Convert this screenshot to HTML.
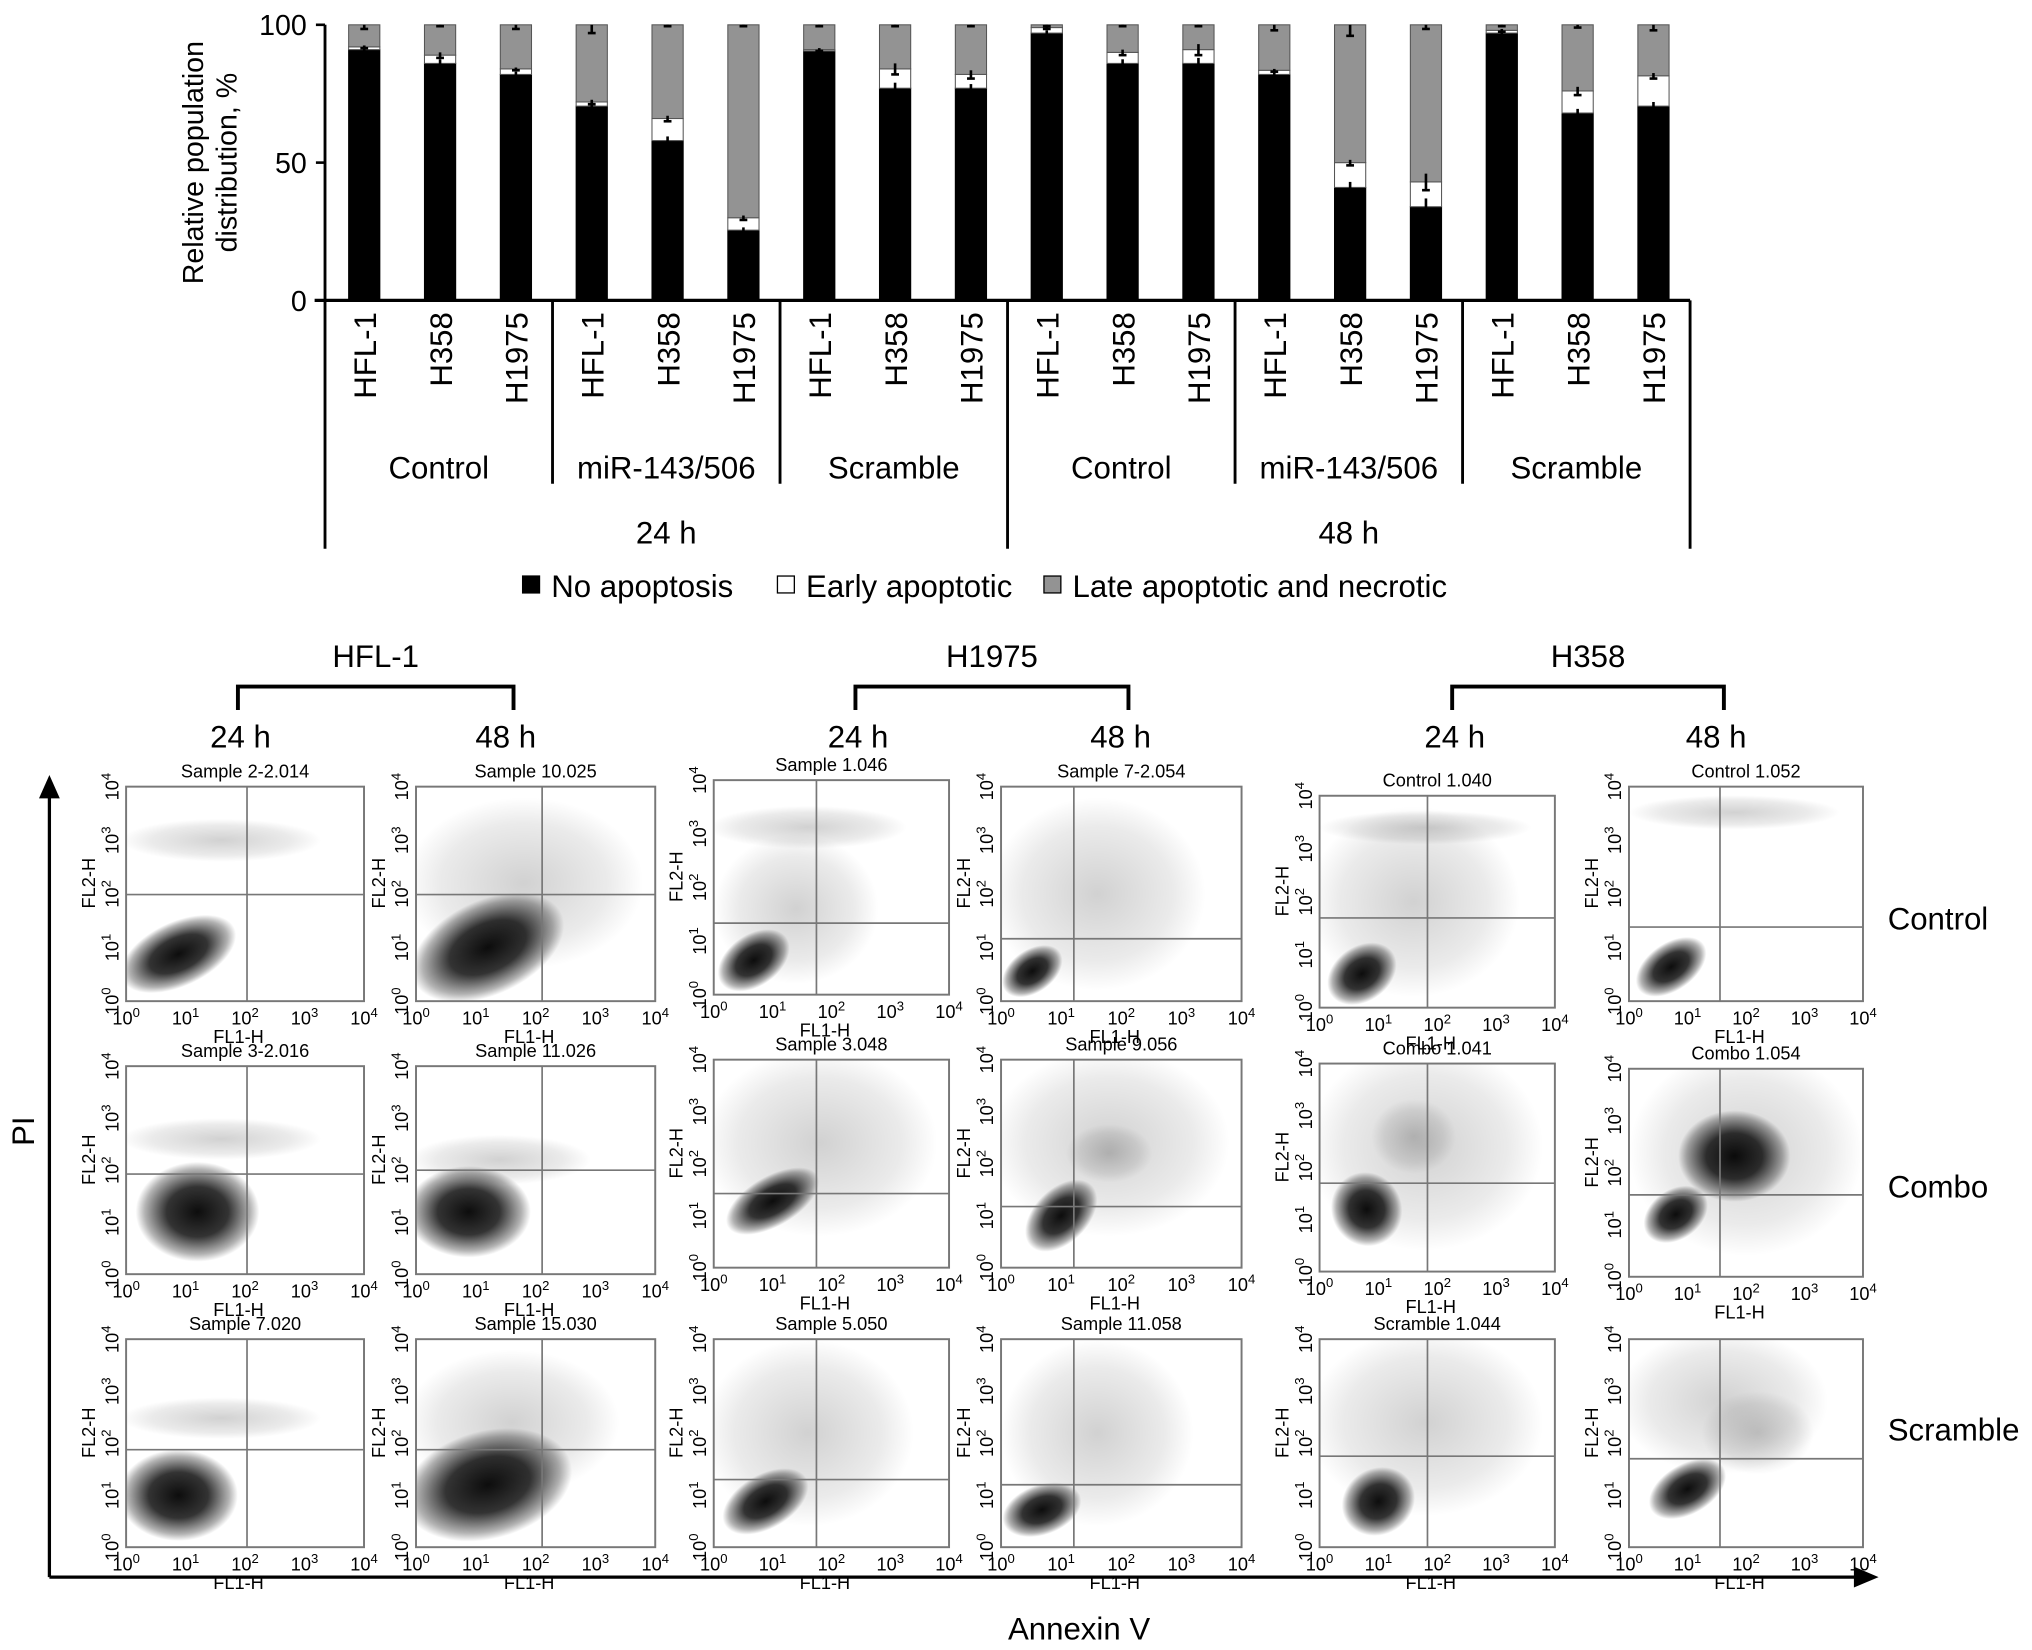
<!DOCTYPE html>
<html><head><meta charset="utf-8">
<style>
html,body{margin:0;padding:0;background:#fff;}
svg{display:block;font-family:"Liberation Sans",Arial,sans-serif;}
</style></head>
<body>
<svg id="fig" width="2032" height="1650" viewBox="0 0 1563 1269" xmlns="http://www.w3.org/2000/svg">
<defs>
<radialGradient id="cloud"><stop offset="0" stop-color="#000" stop-opacity="0.95"/><stop offset="0.5" stop-color="#000" stop-opacity="0.8"/><stop offset="0.85" stop-color="#000" stop-opacity="0.3"/><stop offset="1" stop-color="#000" stop-opacity="0"/></radialGradient>
<radialGradient id="haze"><stop offset="0" stop-color="#000" stop-opacity="0.18"/><stop offset="0.7" stop-color="#000" stop-opacity="0.08"/><stop offset="1" stop-color="#000" stop-opacity="0"/></radialGradient>
</defs>
<g id="bars"></g>
<g id="flow"></g>
</svg>
<script>
// ---- Bar chart data ----
const categories = ["HFL-1","H358","H1975","HFL-1","H358","H1975","HFL-1","H358","H1975","HFL-1","H358","H1975","HFL-1","H358","H1975","HFL-1","H358","H1975"];
const groups = ["Control","miR-143/506","Scramble","Control","miR-143/506","Scramble"];
const times = ["24 h","48 h"];
const noApoptosis = [91,86,82,70.5,58,25.5,90.5,77,77,97,86,86,82,41,34,97,68,70.5];
const earlyApoptotic = [1,3,2,1.5,8,4.5,0.5,7,5,2,4,5,1.5,9,9,1,8,11];
const lateApoptotic = [8,11,16,28,34,70,9,16,18,1,10,9,16.5,50,57,2,24,18.5];
const errNo = [1.5,1.5,1,1.5,1.5,1,1,2,1.5,1,1.5,2,1.5,2,3,1,1.5,1.5];
const errEarly = [0.5,1,0.5,0.8,1,0.8,0.5,2,1.5,0.5,1,2,0.5,1,3,0.5,1.5,1];
const errLate = [1.5,0.5,1.5,3,0.5,0.5,0.5,0.5,0.5,0.5,0.5,0.5,2,4,1.5,0.5,1,2];
const yTicks = [0,50,100];
const legendLabels = ["No apoptosis","Early apoptotic","Late apoptotic and necrotic"];

const NS="http://www.w3.org/2000/svg";
function mk(tag,attrs,parent,text){const e=document.createElementNS(NS,tag);for(const k in attrs)e.setAttribute(k,attrs[k]);if(text!==undefined)e.textContent=text;parent.appendChild(e);return e;}

const gb=document.getElementById('bars');
const X0=250,X1=1300,Y0=231,YT=19;
const yS=v=>Y0-(v/100)*(Y0-YT);
const step=(X1-X0)/categories.length;
const xS=i=>X0+step*(i+0.5)+1;
const BW=24;

let e=mk('line',{x1:X0,y1:YT,x2:X0,y2:Y0,stroke:'#000','stroke-width':2.2},gb);

yTicks.forEach(t=>{
  let tk=mk('line',{x1:X0-7,y1:yS(t),x2:X0,y2:yS(t),stroke:'#000','stroke-width':2},gb);
  
  let tl=mk('text',{x:X0-14,y:yS(t)+8,'text-anchor':'end','font-size':22},gb,String(t));
  
});
e=mk('text',{transform:'translate(156,125) rotate(-90)','text-anchor':'middle','font-size':22},gb);

mk('tspan',{x:0,dy:0},e,'Relative population');
mk('tspan',{x:0,dy:26},e,'distribution, %');

categories.forEach((c,i)=>{
  const x=xS(i)-BW/2;
  const segs=[[0,noApoptosis[i],'#000','bar-no-apoptosis'],[noApoptosis[i],noApoptosis[i]+earlyApoptotic[i],'#fff','bar-early-apoptotic'],[noApoptosis[i]+earlyApoptotic[i],noApoptosis[i]+earlyApoptotic[i]+lateApoptotic[i],'#939393','bar-late-apoptotic']];
  segs.forEach(s=>{
    const r=mk('rect',{x:x,y:yS(s[1]),width:BW,height:Math.max(0,yS(s[0])-yS(s[1])),fill:s[2],stroke:s[2]==='#000'?'#000':'#555','stroke-width':0.8},gb);
    
  });
  const eb=[[noApoptosis[i],errNo[i]],[noApoptosis[i]+earlyApoptotic[i],errEarly[i]],[100,errLate[i]]];
  eb.forEach(b=>{
    const cx=xS(i);
    const l=mk('line',{x1:cx,y1:yS(Math.min(100,b[0]+b[1])),x2:cx,y2:yS(b[0]-b[1]),stroke:'#000','stroke-width':2},gb);
    
    const cp=mk('line',{x1:cx-3,y1:yS(b[0]-b[1]),x2:cx+3,y2:yS(b[0]-b[1]),stroke:'#000','stroke-width':2},gb);
    
  });
  const t=mk('text',{transform:`translate(${xS(i)+9},${240}) rotate(-90)`,'text-anchor':'end','font-size':24},gb,c);
  
});
e=mk('line',{x1:X0-8,y1:Y0,x2:X1,y2:Y0,stroke:'#000','stroke-width':2.5},gb);

for(let g=0;g<=6;g++){
  const x=X0+g*3*step;
  const long=(g%3===0);
  const l=mk('line',{x1:x,y1:Y0,x2:x,y2:long?422:372,stroke:'#000','stroke-width':2.2},gb);
  
}
groups.forEach((g,k)=>{
  const t=mk('text',{x:X0+(k*3+1.5)*step,y:368,'text-anchor':'middle','font-size':24},gb,g);
  
});
times.forEach((g,k)=>{
  const t=mk('text',{x:X0+(k*9+4.5)*step,y:418,'text-anchor':'middle','font-size':24},gb,g);
  
});
const lgX=[402,598,803],lgC=['#000','#fff','#939393'];
legendLabels.forEach((s,k)=>{
  const r=mk('rect',{x:lgX[k],y:443,width:13,height:13,fill:lgC[k],stroke:'#000','stroke-width':1},gb);
  
  const t=mk('text',{x:lgX[k]+22,y:459,'font-size':24},gb,s);
  
});

// ---- Flow panels ----
const gf=document.getElementById('flow');
const panelTitles=["Sample 2-2.014","Sample 10.025","Sample 1.046","Sample 7-2.054","Control 1.040","Control 1.052",
"Sample 3-2.016","Sample 11.026","Sample 3.048","Sample 9.056","Combo 1.041","Combo 1.054",
"Sample 7.020","Sample 15.030","Sample 5.050","Sample 11.058","Scramble 1.044",""];
const colX=[[97,280],[320,504],[549,730],[770,955],[1015,1196],[1253,1433]];
const rowY=[[[605,770],[605,770],[600,765],[605,770],[612,775],[605,770]],
[[820,980],[820,980],[815,975],[815,975],[818,978],[822,982]],
[[1030,1190],[1030,1190],[1030,1190],[1030,1190],[1030,1190],[1030,1190]]];
const quadH=[[688,688,710,722,706,713],[903,900,918,928,910,919],[1115,1115,1138,1142,1120,1122]];
const quadV=[190,417,628,826,1098,1323];
const cloudSpec=[
 [[[.22,.78,.26,.15,-25,'cloud'],[.4,.25,.42,.1,0,'haze']],[[.3,.75,.34,.22,-25,'cloud'],[.45,.45,.5,.4,0,'haze']],[[.17,.84,.17,.12,-35,'cloud'],[.4,.22,.42,.1,0,'haze'],[.35,.6,.35,.35,0,'haze']],[[.13,.86,.14,.1,-35,'cloud'],[.4,.5,.45,.45,0,'haze']],[[.18,.84,.16,.13,-35,'cloud'],[.45,.15,.45,.08,0,'haze'],[.4,.5,.45,.45,0,'haze']],[[.18,.84,.17,.11,-35,'cloud'],[.45,.12,.45,.08,0,'haze']]],
 [[[.3,.7,.26,.24,0,'cloud'],[.4,.35,.42,.1,0,'haze']],[[.22,.7,.26,.22,0,'cloud'],[.35,.45,.38,.12,0,'haze']],[[.25,.68,.22,.12,-30,'cloud'],[.45,.4,.5,.45,0,'haze']],[[.25,.75,.18,.13,-45,'cloud'],[.45,.4,.5,.45,0,'haze'],[.45,.45,.18,.14,0,'haze']],[[.2,.7,.15,.18,-25,'cloud'],[.45,.4,.5,.5,0,'haze'],[.4,.35,.18,.18,0,'haze']],[[.2,.7,.15,.12,-35,'cloud'],[.5,.4,.5,.5,0,'haze'],[.45,.42,.24,.22,0,'cloud']]],
 [[[.22,.75,.25,.22,0,'cloud'],[.4,.38,.42,.1,0,'haze']],[[.3,.7,.36,.26,-15,'cloud'],[.4,.4,.45,.35,0,'haze']],[[.22,.78,.2,.13,-30,'cloud'],[.4,.45,.45,.45,0,'haze']],[[.17,.82,.17,.12,-20,'cloud'],[.4,.45,.4,.45,0,'haze']],[[.25,.78,.16,.16,-30,'cloud'],[.45,.4,.5,.45,0,'haze']],[[.25,.72,.18,.12,-30,'cloud'],[.55,.45,.24,.2,0,'haze'],[.4,.3,.45,.35,0,'haze']]]
];
function sup(parent,x,y,exp,fs,anchor,tr){
  const t=mk('text',tr?{transform:tr,'text-anchor':anchor,'font-size':fs}:{x:x,y:y,'text-anchor':anchor,'font-size':fs},parent);
  mk('tspan',{},t,'10');mk('tspan',{dy:-6,'font-size':fs*0.72},t,String(exp));
  return t;
}
for(let r=0;r<3;r++)for(let c=0;c<6;c++){
  const [x0,x1]=colX[c],[y0,y1]=rowY[r][c];const w=x1-x0,h=y1-y0;
  const g=mk('g',{},gf);
  
  const cp='clip'+r+c;
  const cl=mk('clipPath',{id:cp},g);mk('rect',{x:x0,y:y0,width:w,height:h},cl);
  const cg=mk('g',{'clip-path':`url(#${cp})`},g);
  cloudSpec[r][c].forEach(s=>{
    const el=mk('ellipse',{cx:x0+s[0]*w,cy:y0+s[1]*h,rx:s[2]*w,ry:s[3]*h,fill:`url(#${s[5]})`,transform:`rotate(${s[4]} ${x0+s[0]*w} ${y0+s[1]*h})`},cg);
    
  });
  const b=mk('rect',{x:x0,y:y0,width:w,height:h,fill:'none',stroke:'#777','stroke-width':1.5},g);
  
  const qh=mk('line',{x1:x0,y1:quadH[r][c],x2:x1,y2:quadH[r][c],stroke:'#777','stroke-width':1.3},g);
  
  const qv=mk('line',{x1:quadV[c],y1:y0,x2:quadV[c],y2:y1,stroke:'#777','stroke-width':1.3},g);
  
  if(panelTitles[r*6+c]){
    const t=mk('text',{x:(x0+x1)/2,y:y0-7,'text-anchor':'middle','font-size':14},g,panelTitles[r*6+c]);
    
  }
  for(let k=0;k<5;k++){
    const tx=sup(g,x0+k*w/4,y1+18,k,14,'middle');
    
    const ty=sup(g,0,0,k,14,'middle',`translate(${x0-6},${y1-k*h/4}) rotate(-90)`);
    
  }
  const xl=mk('text',{x:x0+w/2-5,y:y1+32,'text-anchor':'middle','font-size':14},g,'FL1-H');
  
  const yl=mk('text',{transform:`translate(${x0-24},${y0+h*0.45}) rotate(-90)`,'text-anchor':'middle','font-size':14},g,'FL2-H');
  
}
const brackets=[["HFL-1",183,395],["H1975",658,868],["H358",1117,1326]];
brackets.forEach(bk=>{
  const p=mk('path',{d:`M${bk[1]},546 V528 H${bk[2]} V546`,fill:'none',stroke:'#000','stroke-width':3},gf);
  
  const t=mk('text',{x:(bk[1]+bk[2])/2,y:513,'text-anchor':'middle','font-size':24},gf,bk[0]);
  
  [[bk[1]+2,'24 h'],[bk[2]-6,'48 h']].forEach(h=>{
    const tt=mk('text',{x:h[0],y:575,'text-anchor':'middle','font-size':24},gf,h[1]);
    
  });
});
[["Control",715],["Combo",921],["Scramble",1108]].forEach(rl=>{
  const t=mk('text',{x:1452,y:rl[1],'font-size':24},gf,rl[0]);
  
});
e=mk('path',{d:'M38,1213 V612',stroke:'#000','stroke-width':2.5,fill:'none'},gf);

e=mk('path',{d:'M30,614 L38,596 L46,614 Z',fill:'#000'},gf);

e=mk('path',{d:'M38,1213 H1428',stroke:'#000','stroke-width':2.5,fill:'none'},gf);

e=mk('path',{d:'M1426,1205 L1445,1213 L1426,1221 Z',fill:'#000'},gf);

e=mk('text',{transform:'translate(26,870) rotate(-90)','text-anchor':'middle','font-size':24},gf,'PI');

e=mk('text',{x:830,y:1261,'text-anchor':'middle','font-size':24},gf,'Annexin V');

</script>
</body></html>
